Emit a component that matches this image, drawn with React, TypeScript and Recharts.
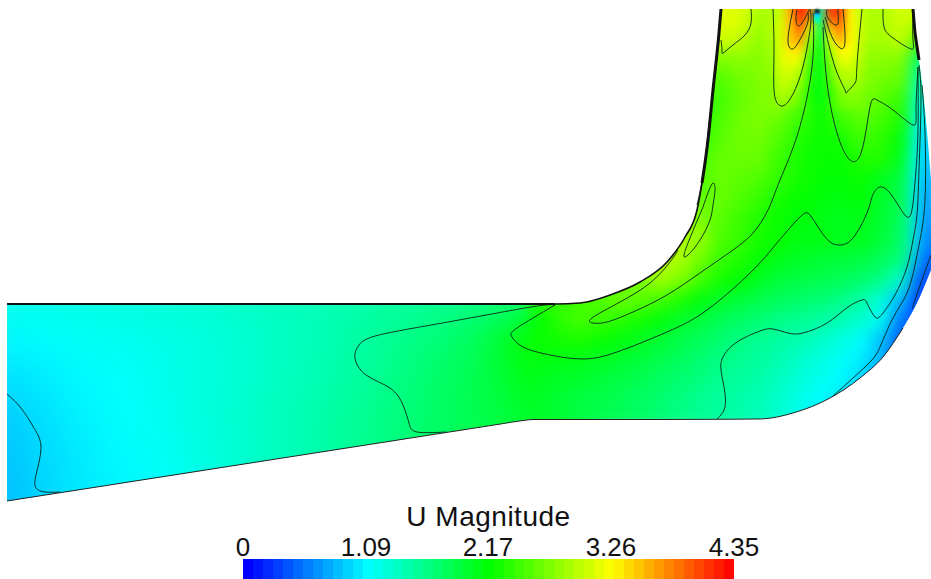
import { Area, ComposedChart, Scatter, XAxis, YAxis, Label } from "recharts";

const colorStops = [
  [0, 0, 0, 255],
  [1.09, 0, 255, 255],
  [2.17, 0, 255, 0],
  [3.26, 255, 255, 0],
  [4.35, 255, 0, 0],
];

function magnitudeColor(v: number) {
  for (let i = 1; i < colorStops.length; i++) {
    const [b, r, g, bl] = colorStops[i];
    const [a, r0, g0, bl0] = colorStops[i - 1];
    if (v <= b) {
      const t = (v - a) / (b - a);
      return `rgb(${Math.round(r0 + (r - r0) * t)},${Math.round(g0 + (g - g0) * t)},${Math.round(bl0 + (bl - bl0) * t)})`;
    }
  }
  return "rgb(255,0,0)";
}

// inlet section, coarse
const inletX = [0, 40, 80, 120, 160, 200, 240, 280, 320, 360, 400, 440, 480, 520, 560];
const inletY = [300, 340, 380, 420, 460, 500, 540];
const inletU = [
  [1.18, 1.18, 1.2, 1.22, 1.25, 1.28, 1.32, 1.36, 1.4, 1.45, 1.5, 1.55, 1.62, 1.7, 1.9],
  [1.05, 1.08, 1.12, 1.15, 1.18, 1.22, 1.28, 1.34, 1.4, 1.48, 1.58, 1.68, 1.82, 2.12, 2.32],
  [0.95, 1.0, 1.07, 1.1, 1.16, 1.22, 1.28, 1.35, 1.42, 1.5, 1.62, 1.74, 1.86, 2.02, 2.15],
  [0.85, 0.95, 1.03, 1.1, 1.15, 1.22, 1.3, 1.38, 1.45, 1.55, 1.65, 1.75, 1.85, 1.95, 2.05],
  [0.82, 0.92, 1.0, 1.07, 1.12, 1.2, 1.28, 1.36, 1.45, 1.55, 1.65, 1.75, 1.85, 1.95, 2.0],
  [0.8, 0.9, 1.0, 1.05, 1.12, 1.2, 1.28, 1.36, 1.45, 1.55, 1.65, 1.75, 1.85, 1.95, 2.0],
  [0.8, 0.9, 1.0, 1.05, 1.12, 1.2, 1.28, 1.36, 1.45, 1.55, 1.65, 1.75, 1.85, 1.95, 2.0],
];

// bend
const bendX = [540, 560, 580, 600, 620, 640, 660, 680, 700, 720, 740, 760, 780, 800, 820, 840, 860, 880, 900, 920, 931];
const bendY = [240, 260, 280, 300, 320, 340, 360, 380, 400, 420];
const bendU = [
  [2.9, 2.9, 2.9, 2.9, 2.9, 2.9, 2.9, 2.9, 2.8, 2.5, 2.4, 2.25, 2.2, 2.1, 2.1, 2.05, 2.05, 1.95, 1.75, 0.95, 0.55],
  [2.9, 2.9, 2.9, 2.9, 2.9, 2.9, 2.95, 2.9, 2.65, 2.4, 2.3, 2.15, 2.05, 2.0, 1.95, 1.93, 1.9, 1.8, 1.65, 0.8, 0.4],
  [2.6, 2.6, 2.6, 2.6, 2.65, 2.7, 2.85, 2.7, 2.45, 2.25, 2.15, 2.02, 1.92, 1.88, 1.85, 1.8, 1.72, 1.6, 1.3, 0.45, 0.3],
  [2.35, 2.4, 2.45, 2.5, 2.6, 2.55, 2.45, 2.3, 2.12, 2.0, 1.92, 1.85, 1.78, 1.73, 1.68, 1.6, 1.48, 1.25, 0.8, 0.3, 0.2],
  [2.15, 2.35, 2.45, 2.42, 2.35, 2.25, 2.12, 2.0, 1.92, 1.82, 1.75, 1.68, 1.6, 1.55, 1.48, 1.42, 1.3, 1.15, 0.55, 0.2, 0.2],
  [2.2, 2.25, 2.28, 2.2, 2.12, 2.03, 1.95, 1.87, 1.78, 1.7, 1.62, 1.55, 1.48, 1.42, 1.33, 1.22, 1.1, 0.85, 0.4, 0.2, 0.2],
  [2.1, 2.1, 2.07, 2.02, 1.97, 1.92, 1.85, 1.78, 1.7, 1.62, 1.55, 1.5, 1.42, 1.32, 1.22, 1.12, 1.03, 0.8, 0.3, 0.2, 0.2],
  [2.05, 2.0, 1.98, 1.93, 1.88, 1.83, 1.76, 1.7, 1.63, 1.55, 1.5, 1.45, 1.35, 1.25, 1.15, 1.07, 0.95, 0.5, 0.3, 0.2, 0.2],
  [2.0, 1.95, 1.9, 1.87, 1.82, 1.75, 1.7, 1.63, 1.55, 1.5, 1.45, 1.4, 1.3, 1.18, 1.08, 1.0, 0.7, 0.5, 0.3, 0.2, 0.2],
  [2.0, 1.95, 1.9, 1.85, 1.8, 1.75, 1.68, 1.6, 1.55, 1.5, 1.45, 1.38, 1.28, 1.15, 1.05, 0.9, 0.7, 0.5, 0.3, 0.2, 0.2],
];

// outlet leg
const legX = [680, 700, 720, 740, 760, 780, 800, 820, 840, 860, 880, 900, 920, 931];
const legY = [0, 20, 40, 60, 80, 100, 120, 140, 160, 180, 200, 220, 240, 260];
const legU = [
  [3.15, 3.15, 3.15, 3.15, 2.9, 3.0, 3.9, 2.0, 3.9, 3.0, 2.9, 3.1, 3.05, 3.0],
  [3.15, 3.15, 3.15, 3.1, 2.85, 3.0, 3.8, 2.0, 3.8, 3.0, 2.9, 3.05, 3.0, 3.0],
  [3.05, 3.05, 3.05, 3.0, 2.75, 3.1, 3.5, 1.8, 3.6, 3.05, 2.85, 3.0, 2.6, 2.2],
  [2.7, 2.7, 2.7, 2.75, 2.72, 3.05, 3.1, 2.1, 3.2, 2.95, 2.75, 2.72, 1.8, 1.4],
  [2.6, 2.6, 2.5, 2.65, 2.7, 2.95, 2.75, 2.1, 2.95, 2.85, 2.65, 2.6, 1.55, 1.2],
  [2.4, 2.4, 2.45, 2.6, 2.7, 2.8, 2.55, 2.15, 2.65, 2.7, 2.55, 2.4, 1.35, 1.05],
  [2.3, 2.3, 2.5, 2.65, 2.7, 2.6, 2.4, 2.2, 2.4, 2.55, 2.45, 2.3, 1.25, 0.95],
  [2.4, 2.4, 2.55, 2.65, 2.65, 2.5, 2.3, 2.2, 2.25, 2.42, 2.38, 2.15, 1.15, 0.85],
  [2.5, 2.5, 2.6, 2.62, 2.6, 2.4, 2.25, 2.2, 2.18, 2.3, 2.3, 2.05, 1.1, 0.8],
  [2.5, 2.5, 2.62, 2.55, 2.5, 2.35, 2.25, 2.18, 2.15, 2.2, 2.05, 1.9, 1.05, 0.72],
  [2.6, 2.6, 2.6, 2.5, 2.38, 2.25, 2.18, 2.12, 2.1, 2.15, 2.0, 1.85, 1.0, 0.65],
  [2.8, 2.7, 2.55, 2.42, 2.3, 2.2, 2.12, 2.08, 2.05, 2.08, 1.98, 1.8, 0.98, 0.6],
  [2.9, 2.8, 2.5, 2.4, 2.25, 2.2, 2.1, 2.1, 2.05, 2.05, 1.95, 1.75, 0.95, 0.55],
  [2.9, 2.65, 2.4, 2.3, 2.15, 2.05, 2.0, 1.95, 1.93, 1.9, 1.8, 1.65, 0.8, 0.4],
];

// jet region under the top edge
const jetX = [770, 780, 790, 800, 810, 820, 830, 840, 850, 860, 870];
const jetY = [0, 10, 20, 30, 40, 50, 60, 70, 80, 90, 100];
const jetU = [
  [2.9, 3.0, 3.6, 4.25, 3.9, 1.4, 4.1, 4.1, 3.3, 3.0, 2.9],
  [2.9, 3.0, 3.6, 4.25, 3.9, 1.4, 4.1, 4.1, 3.3, 3.0, 2.9],
  [2.9, 3.05, 3.55, 4.1, 3.6, 1.6, 3.9, 3.95, 3.3, 3.05, 2.9],
  [2.9, 3.1, 3.5, 3.9, 3.1, 1.8, 3.5, 3.8, 3.3, 3.05, 2.9],
  [2.85, 3.1, 3.5, 3.65, 2.8, 1.95, 3.15, 3.6, 3.3, 3.05, 2.85],
  [2.8, 3.1, 3.35, 3.4, 2.6, 2.05, 2.9, 3.3, 3.25, 3.0, 2.8],
  [2.75, 3.1, 3.2, 3.15, 2.45, 2.1, 2.75, 3.15, 3.15, 2.95, 2.75],
  [2.75, 3.05, 3.1, 2.95, 2.4, 2.1, 2.6, 3.0, 3.0, 2.9, 2.7],
  [2.7, 3.0, 3.0, 2.85, 2.35, 2.1, 2.5, 2.9, 2.9, 2.85, 2.68],
  [2.7, 2.95, 2.9, 2.7, 2.3, 2.1, 2.4, 2.75, 2.8, 2.75, 2.65],
  [2.7, 2.85, 2.8, 2.6, 2.3, 2.12, 2.35, 2.65, 2.7, 2.7, 2.6],
];

const wakeCore = [
  { x: 817, y: 12, v: 0.0 },
  { x: 817, y: 16, v: 0.9 },
  { x: 817, y: 20, v: 1.4 },
];

// walls
const innerWall = [
  [7, 304], [300, 304], [555, 304], [580, 303], [610, 295], [640, 282], [667, 262], [685, 237], [697, 210], [702, 183], [708, 140], [713, 90], [719, 33], [721, 9],
];
const leftEdge = [[0, 0], [7, 0]];
const topEdge = [[721, 9], [913, 9]];
const rightWall = [[913, 9], [915, 33], [919, 60], [925, 110], [930, 167], [931, 180]];
const lowerWall = [
  [7, 501], [30, 497.4], [100, 486.5], [200, 470.9], [300, 455.3], [400, 439.7], [500, 424.1], [523, 420.5], [533, 419.5], [650, 419.5], [760, 419], [793, 413], [830, 398], [860, 378], [883, 357], [903, 328], [917, 303], [931, 270],
];

// contour lines
const contours = [
  [[751, 9], [751, 23], [745, 35], [733, 45], [723, 53], [722, 50], [721, 40]],
  [[773, 9], [774, 50], [774, 90], [779, 105], [788, 102], [800, 77], [808, 43], [811, 20], [810, 9]],
  [[793, 9], [788, 40], [792, 49], [798, 43], [807, 25], [808, 13]],
  [[797, 10], [796, 20], [799, 26], [805, 18], [809, 10]],
  [[827, 10], [828, 18], [837, 25], [838, 13], [838, 9]],
  [[825, 17], [832, 37], [840, 48], [845, 42], [843, 9]],
  [[823, 20], [835, 67], [845, 90], [847, 92], [855, 83], [857, 65], [862, 9]],
  [[883, 9], [884, 27], [893, 38], [911, 49], [913, 40], [913, 12]],
  [[813, 13], [812, 67], [798, 133], [780, 180], [768, 210], [753, 233], [733, 250], [700, 273], [667, 295], [633, 312], [607, 322], [593, 323], [592, 318], [620, 302], [650, 283], [670, 262], [678, 250]],
  [[823, 27], [827, 83], [837, 133], [850, 160], [862, 150], [870, 107], [877, 100], [893, 110], [913, 125], [916, 110], [918, 67]],
  [[555, 305], [517, 328], [512, 337], [523, 347], [550, 355], [583, 359], [617, 352], [667, 332], [707, 310], [750, 273], [777, 243], [800, 217], [810, 215], [820, 230], [830, 242], [840, 245], [853, 238], [867, 213], [872, 197], [880, 187], [893, 197], [907, 217], [913, 203], [916, 170], [918, 130], [918, 67]],
  [[717, 419], [725, 407], [724, 387], [721, 370], [723, 357], [737, 342], [760, 331], [773, 329], [788, 333], [803, 333], [827, 323], [848, 307], [862, 300], [867, 303], [875, 317], [883, 313], [895, 295], [907, 267], [913, 240], [917, 215], [919, 170], [921, 100], [919, 65]],
  [[832, 397], [867, 365], [880, 347], [893, 318], [907, 293], [915, 265], [920, 240], [925, 200], [925, 133], [922, 85]],
  [[913, 308], [914, 303], [923, 277], [931, 255]],
  [[703, 207], [712, 184], [715, 190], [713, 205], [710, 220], [700, 240], [688, 255], [684, 255], [690, 238], [703, 207]],
  [[716, 67], [712, 100], [708, 133], [703, 175], [697, 205]],
  [[7, 394], [21, 408], [34, 428], [41, 448], [36, 475], [36, 488], [45, 492], [60, 492]],
  [[555, 305], [531, 307], [448, 322], [379, 335], [359, 345], [355, 358], [366, 375], [390, 388], [403, 405], [409, 423], [417, 432], [446, 432]],
];

// colour bar
const barTicks = [0, 1.09, 2.17, 3.26, 4.35];
const barLevels = [
  0, 0.09, 0.18, 0.27, 0.36, 0.45, 0.54, 0.63, 0.72, 0.81, 0.9, 0.99, 1.08, 1.17, 1.26, 1.35, 1.44, 1.53, 1.62, 1.71,
  1.8, 1.89, 1.98, 2.07, 2.16, 2.25, 2.34, 2.43, 2.52, 2.61, 2.7, 2.79, 2.88, 2.97, 3.06, 3.15, 3.24, 3.33, 3.42,
  3.51, 3.6, 3.69, 3.78, 3.87, 3.96, 4.05, 4.14, 4.23, 4.32,
];
const barSpan = [0, 4.35];

const W = 931;
const H = 579;

const toCells = (xs: number[], ys: number[], rows: number[][]) =>
  rows.flatMap((row, i) => row.map((v, j) => ({ x: xs[j], y: ys[i], v })));
const toPoints = (pts: number[][]) => pts.map(([x, y]) => ({ x, y }));

const cellShape = (w: number, h: number) => (p: any) => (
  <rect
    x={p.cx - w / 2}
    y={p.cy - h / 2}
    width={w}
    height={h}
    fill={magnitudeColor(p.payload.v)}
  />
);
const noPoint = () => <g />;
const wakeShape = (p: any) => <circle cx={p.cx} cy={p.cy} r={3} fill={p.payload.v === 0 ? "#102030" : magnitudeColor(p.payload.v)} />;

// white area outside the duct, one run of rows per mask
const maskRows = [
  ...leftEdge.map(([x]) => ({ x, leftMask: [0, H] })),
  ...innerWall.map(([x, y]) => ({ x, topMask: [0, y] })),
  ...topEdge.map(([x, y]) => ({ x, flatMask: [0, y] })),
  ...rightWall.map(([x, y]) => ({ x, rightMask: [0, y] })),
  ...lowerWall.map(([x, y]) => ({ x, lowerMask: [y, H] })),
];
const maskKeys = ["leftMask", "topMask", "flatMask", "rightMask", "lowerMask"];

const lineColor = "#06251a";

function ColorBar() {
  const n = barLevels.length;
  return (
    <div style={{ position: "absolute", left: 203, top: 500, width: 572, height: 79 }}>
      <ComposedChart
        width={572}
        height={79}
        margin={{ top: 0, right: 41, bottom: 0, left: 40 }}
        data={barSpan.map((v) => ({ v, full: 1 }))}
      >
        <defs>
          <linearGradient id="magBar" x1="0" y1="0" x2="1" y2="0">
            {barLevels.flatMap((lv, i) => [
              <stop key={`a${i}`} offset={i / n} stopColor={magnitudeColor(lv)} />,
              <stop key={`b${i}`} offset={(i + 1) / n} stopColor={magnitudeColor(lv)} />,
            ])}
          </linearGradient>
        </defs>
        <XAxis
          dataKey="v"
          type="number"
          orientation="top"
          domain={[0, 4.35]}
          ticks={barTicks}
          tickFormatter={(v) => String(v)}
          interval={0}
          axisLine={false}
          tickLine={false}
          tickMargin={-3}
          height={59}
          tick={{ fontFamily: "Liberation Sans", fontSize: 26, fill: "#111" }}
        >
          <Label
            value="U Magnitude"
            position="insideTop"
            offset={6}
            style={{ fontFamily: "Liberation Sans", fontSize: 28, fill: "#111", letterSpacing: 0.5 }}
          />
        </XAxis>
        <YAxis hide domain={[0, 1]} />
        <Area dataKey="full" type="linear" stroke="none" fill="url(#magBar)" fillOpacity={1} isAnimationActive={false} dot={false} activeDot={false} />
      </ComposedChart>
    </div>
  );
}

export default function App() {
  return (
    <div style={{ position: "absolute", left: 0, top: 0, width: W, height: H, background: "#fff", overflow: "hidden" }}>
      <style>{`
        .heat-inlet { filter: url(#blurInlet); }
        .heat-bend { filter: url(#blurBend); }
        .heat-jet { filter: url(#blurJet); }
        .wake-core { filter: url(#blurWake); }
      `}</style>
      <svg width={0} height={0} style={{ position: "absolute" }}>
        <defs>
          <filter id="blurInlet" filterUnits="userSpaceOnUse" x={-100} y={0} width={1131} height={700} colorInterpolationFilters="sRGB">
            <feGaussianBlur stdDeviation={16} />
          </filter>
          <filter id="blurBend" filterUnits="userSpaceOnUse" x={-100} y={-100} width={1131} height={800} colorInterpolationFilters="sRGB">
            <feGaussianBlur stdDeviation={8} />
          </filter>
          <filter id="blurJet" filterUnits="userSpaceOnUse" x={-100} y={-100} width={1131} height={800} colorInterpolationFilters="sRGB">
            <feGaussianBlur stdDeviation={4} />
          </filter>
          <filter id="blurWake" filterUnits="userSpaceOnUse" x={700} y={0} width={231} height={100} colorInterpolationFilters="sRGB">
            <feGaussianBlur stdDeviation={0.8} />
          </filter>
        </defs>
      </svg>
      <ComposedChart data={maskRows} width={W} height={H} margin={{ top: 0, right: 0, bottom: 0, left: 0 }}>
        <XAxis dataKey="x" type="number" domain={[0, W]} hide />
        <YAxis dataKey="y" type="number" domain={[0, H]} reversed hide />

        <Scatter zIndex={50} className="heat-inlet" data={toCells(inletX, inletY, inletU)} shape={cellShape(40, 40)} isAnimationActive={false} />
        <Scatter zIndex={51} className="heat-bend" data={toCells(legX, legY, legU)} shape={cellShape(20, 20)} isAnimationActive={false} />
        <Scatter zIndex={52} className="heat-bend" data={toCells(bendX, bendY, bendU)} shape={cellShape(20, 20)} isAnimationActive={false} />
        <Scatter zIndex={53} className="heat-jet" data={toCells(jetX, jetY, jetU)} shape={cellShape(10, 10)} isAnimationActive={false} />

        {maskKeys.map((k) => (
          <Area key={k} zIndex={100} dataKey={k} type="monotoneX" stroke="none" fill="#fff" fillOpacity={1} dot={false} activeDot={false} isAnimationActive={false} />
        ))}

        <Scatter className="wake-core" data={wakeCore} shape={wakeShape} isAnimationActive={false} />

        {contours.map((pts, i) => (
          <Scatter
            key={i}
            data={toPoints(pts)}
            line={{ stroke: lineColor, strokeWidth: 1, strokeOpacity: 0.9 }}
            lineJointType="natural"
            shape={noPoint}
            isAnimationActive={false}
          />
        ))}

        <Scatter data={toPoints(innerWall)} line={{ stroke: "#111", strokeWidth: 1.6 }} lineJointType="monotoneX" shape={noPoint} isAnimationActive={false} />
        <Scatter data={toPoints(innerWall.slice(0, 3))} line={{ stroke: "#111", strokeWidth: 2 }} shape={noPoint} isAnimationActive={false} />
        <Scatter data={toPoints(innerWall.slice(9))} line={{ stroke: "#111", strokeWidth: 3 }} lineJointType="monotoneX" shape={noPoint} isAnimationActive={false} />
        <Scatter data={toPoints(rightWall.slice(0, 3))} line={{ stroke: "#111", strokeWidth: 3 }} shape={noPoint} isAnimationActive={false} />
        <Scatter data={toPoints(lowerWall.slice(0, 16))} line={{ stroke: "#222", strokeWidth: 1 }} lineJointType="monotoneX" shape={noPoint} isAnimationActive={false} />
      </ComposedChart>
      <ColorBar />
    </div>
  );
}
